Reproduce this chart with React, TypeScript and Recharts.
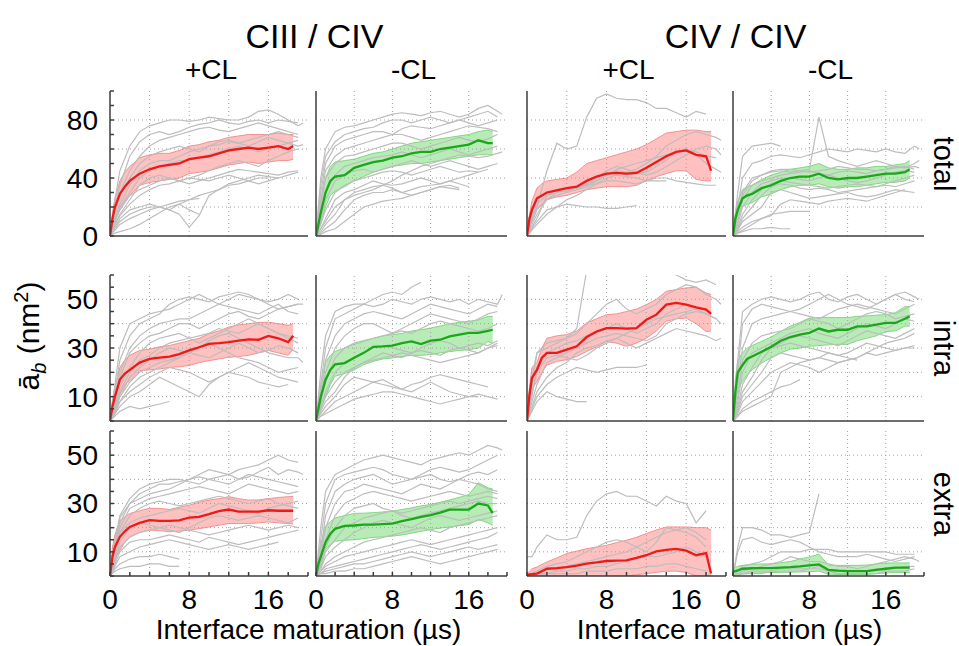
import React from 'react';
import { ComposedChart, Line, Area, XAxis, YAxis, ReferenceLine } from 'recharts';

const FONT = '"Liberation Sans", Arial, Helvetica, sans-serif';

// sample positions (µs) for the individual gray trajectories and for the mean/band
const GRAY_X = [0, 0.5, 1, 2, 3, 4, 5, 6, 7, 8, 9, 10, 11, 12, 13, 14, 15, 16, 17, 18, 19, 19.5];
const MEAN_X = [0, 0.25, 0.5, 1, 1.5, 2, 3, 4, 5, 6, 7, 8, 9, 10, 11, 12, 13, 14, 15, 16, 17, 18, 18.5];

const X_TICKS = [0, 2, 4, 6, 8, 10, 12, 14, 16, 18, 20];
const X_LABELS = [0, 8, 16];
const X_GRID = [4, 8, 12, 16];
const Y_TICKS_TOTAL = [0, 10, 20, 30, 40, 50, 60, 70, 80, 90, 100];
const Y_LABELS_TOTAL = [0, 40, 80];
const Y_GRID_TOTAL = [20, 40, 60, 80];
const Y_TICKS_PART = [0, 5, 10, 15, 20, 25, 30, 35, 40, 45, 50, 55, 60];
const Y_LABELS_PART = [10, 30, 50];
const Y_GRID_PART = [10, 20, 30, 40, 50];

const GROUPS = ['CIII / CIV', 'CIV / CIV'];
const COLUMNS = ['+CL', '-CL', '+CL', '-CL'];
const ROWS = ['total', 'intra', 'extra'];

// panel frame positions in the page
const COL_LEFT = [110, 316, 527, 733];
const COL_RIGHT = [308, 507, 726, 924];
const ROW_TOP = [91, 275, 431];
const ROW_BOTTOM = [236, 421, 576];

// ---- CIII/CIV +CL total
const A_GRAY = [
  [0, 25, 45, 62, 72, 76, 78, 80, 80, 79, 80, 82, 81, 80, 80, 82, 86, 87, 84, 80, 76, 78],
  [0, 20, 35, 55, 65, 70, 72, 70, 72, 75, 77, 78, 80, 78, 77, 79, 80, 78, 80, 79, 78],
  [0, 15, 30, 45, 55, 62, 66, 68, 70, 72, 74, 75, 73, 72, 74, 76, 78, 76, 74, 72, 70],
  [0, 18, 28, 40, 50, 55, 58, 60, 62, 60, 58, 62, 65, 66, 64, 62, 65, 68, 66, 64, 62, 63],
  [0, 12, 22, 35, 45, 50, 52, 52, 55, 58, 60, 62, 63, 65, 64, 66, 68, 70, 72, 70, 68],
  [0, 10, 20, 30, 40, 45, 48, 50, 52, 52, 54, 56, 58, 60, 62, 60, 58, 60, 62, 64, 66],
  [0, 8, 15, 25, 35, 40, 42, 40, 38, 40, 42, 45, 48, 50, 52, 50, 48, 52, 55, 58, 60],
  [0, 10, 18, 28, 32, 35, 38, 40, 38, 36, 38, 40, 42, 44, 46, 45, 44, 43, 42, 44, 45],
  [0, 8, 14, 22, 28, 32, 35, 36, 38, 40, 39, 38, 40, 42, 40, 38, 36, 38, 40],
  [0, 6, 12, 18, 20, 22, 20, 18, 22, 25, 28, 30, 32, 35, 36, 38, 40, 40],
  [0, 5, 10, 15, 18, 20, 20, 18, 15, 6, 14, 28, 32, 36, 38, 40, 42, 41, 40, 42, 44],
  [0, 4, 8, 12, 15, 18, 20, 22, 24, 25, 26],
  [0, 2, 3, 5, 8, 12, 16, 20, 22, 18, 15],
];
const A_MEAN = [0, 12, 20, 29, 34, 38, 43, 46, 48, 49, 50, 53, 54, 55, 57, 59, 60, 61, 60, 61, 62, 60, 62];
const A_HI = [0, 16, 26, 38, 44, 48, 54, 56, 57, 57, 59, 62, 63, 65, 66, 68, 69, 70, 70, 70, 71, 70, 70];
const A_LO = [0, 7, 12, 18, 24, 28, 35, 37, 38, 39, 40, 43, 44, 45, 47, 49, 50, 51, 50, 51, 52, 52, 53];

// ---- CIII/CIV -CL total
const B_GRAY = [
  [0, 40, 60, 72, 75, 76, 78, 80, 82, 84, 85, 84, 83, 85, 86, 84, 82, 84, 88, 90, 86, 84],
  [0, 35, 55, 65, 70, 72, 74, 75, 78, 80, 80, 78, 80, 82, 80, 78, 80, 82, 84, 86, 82],
  [0, 30, 50, 62, 66, 68, 70, 72, 72, 70, 74, 76, 75, 74, 76, 78, 80, 78, 76, 78, 80],
  [0, 25, 45, 55, 60, 62, 64, 66, 68, 70, 70, 68, 66, 68, 70, 72, 74, 76, 75, 74, 72],
  [0, 20, 40, 50, 55, 56, 58, 60, 62, 64, 64, 62, 60, 62, 64, 66, 68, 66, 65, 67, 70],
  [0, 15, 30, 42, 48, 50, 52, 54, 55, 56, 58, 56, 54, 56, 58, 60, 58, 56, 58, 60, 62],
  [0, 10, 25, 38, 42, 45, 46, 44, 46, 48, 50, 52, 50, 48, 50, 52, 50, 48, 46, 48, 50],
  [0, 8, 18, 30, 35, 38, 40, 42, 44, 45, 44, 42, 44, 46, 48, 46, 44, 45, 44, 46],
  [0, 5, 12, 25, 30, 32, 35, 38, 36, 35, 36, 38, 40, 38, 36, 38, 40, 42, 44],
  [0, 3, 8, 15, 25, 30, 32, 34, 35, 33, 30, 32, 34, 35, 36, 38, 36, 34],
  [0, 2, 5, 10, 18, 25, 28, 30, 30, 32, 30, 28, 30, 32, 34, 35, 33],
  [0, 1, 3, 5, 10, 15, 20, 22, 24, 25, 26, 28, 30, 32, 34, 33, 32],
  [0, 5, 10, 20, 25, 28, 30, 32, 35, 38, 42, 45, 48, 50, 52, 54, 56, 55, 54, 55, 57, 58],
];
const B_MEAN = [0, 8, 16, 30, 38, 41, 42, 47, 49, 51, 52, 54, 55, 57, 58, 58, 60, 61, 62, 63, 66, 64, 64];
const B_HI = [0, 12, 24, 40, 48, 51, 52, 53, 55, 57, 58, 60, 62, 64, 65, 66, 67, 68, 69, 70, 72, 73, 72];
const B_LO = [0, 4, 9, 20, 28, 31, 34, 38, 41, 44, 46, 48, 49, 50, 50, 51, 52, 53, 54, 55, 56, 56, 56];

// ---- CIV/CIV +CL total
const C_GRAY = [
  [0, 10, 20, 45, 64, 60, 62, 82, 95, 98, 95, 94, 94, 92, 88, 88, 85, 82, 86, 84],
  [0, 8, 15, 25, 28, 30, 32, 34, 38, 42, 45, 44, 46, 50, 55, 62, 66, 70, 72, 70, 68, 66],
  [0, 10, 18, 25, 30, 32, 34, 36, 38, 42, 44, 42, 43, 44, 48, 52, 58, 60, 56, 50, 46, 44],
  [0, 6, 12, 28, 32, 33, 34, 35, 36, 38, 38, 37, 36, 38, 40, 40, 38, 37, 36, 35, 35],
  [0, 5, 10, 18, 20, 22, 21, 20, 20, 19, 19, 20, 21],
  [0, 4, 8, 15, 20, 25, 28, 32, 36, 40, 42, 41, 40, 38, 38, 38],
  [0, 15, 25, 30, 32, 33, 33, 35, 40, 45, 48, 46, 44, 42, 44, 48, 52, 56, 60, 62, 60, 56],
  [0, 12, 22, 28, 30, 31, 33, 36, 38, 42, 46, 48, 50, 52, 54, 56, 58, 60, 58, 55, 54],
];
const C_MEAN = [0, 12, 18, 26, 28, 30, 31.5, 33, 34, 38, 41, 43, 43.5, 43, 43.5, 47, 51, 55, 58, 59, 56, 55, 45];
const C_HI = [0, 15, 24, 33, 36, 38, 39, 40, 44, 50, 52, 54, 56, 58, 60, 63, 67, 71, 72, 73, 73, 72, 72];
const C_LO = [0, 8, 13, 19, 22, 25, 27, 28, 30, 32, 33, 34, 34, 34, 35, 38, 41, 43, 45, 45, 39, 38, 38];

// ---- CIV/CIV -CL total
const D_GRAY = [
  [0, 30, 55, 62, 63, 64, 62],
  [0, 20, 40, 50, 52, 55, 56, 55, 54, 56, 58, 60, 59, 58, 60, 59, 58, 60, 58, 57, 62, 60],
  [0, 15, 30, 40, 42, 44, 45, 44, 45, 46, 82, 55, 52, 50, 48, 50, 52, 50, 48, 47, 50, 52],
  [0, 15, 28, 38, 42, 45, 46, 46, 45, 44, 45, 46, 48, 47, 46, 46, 45, 46, 48, 47, 48, 47],
  [0, 10, 25, 35, 38, 40, 42, 43, 44, 45, 43, 42, 44, 45, 44, 43, 45, 46, 47, 48, 46],
  [0, 8, 20, 30, 36, 38, 40, 40, 39, 38, 40, 42, 40, 38, 37, 38, 40, 42, 44, 45, 44],
  [0, 6, 15, 25, 32, 36, 38, 37, 36, 35, 34, 33, 34, 35, 36, 35, 34, 36, 38, 40, 42],
  [0, 5, 12, 20, 28, 34, 36, 35, 33, 32, 33, 32, 30, 31, 32, 33, 34, 35, 34, 36, 38],
  [0, 4, 10, 15, 20, 30, 32, 30, 28, 26, 27, 28, 29, 30, 28, 27, 28, 30, 32, 31, 30],
  [0, 3, 6, 10, 12, 14, 22, 25, 24, 23, 22, 24, 25, 26, 25, 24, 26, 28, 30, 32],
  [0, 2, 4, 8, 12, 15, 16, 17, 17, 17],
  [0, 2, 3, 5, 5, 6, 5, 5],
];
const D_MEAN = [0, 12, 18, 26, 28, 29, 33, 35, 38, 40, 41, 41, 43, 40, 39, 40, 40, 41, 42, 43, 43, 44, 46];
const D_HI = [0, 16, 24, 32, 34, 35, 39, 42, 44, 46, 47, 48, 50, 47, 46, 46, 47, 47, 48, 48, 49, 50, 52];
const D_LO = [0, 8, 13, 20, 22, 23, 27, 29, 32, 34, 35, 35, 36, 34, 33, 34, 34, 35, 36, 37, 37, 38, 40];

// ---- CIII/CIV +CL intra
const E_GRAY = [
  [0, 15, 30, 40, 42, 44, 45, 46, 48, 50, 52, 50, 48, 50, 52, 51, 50, 48, 46, 47, 48, 48],
  [0, 12, 25, 35, 40, 42, 44, 48, 50, 51, 50, 49, 51, 52, 53, 52, 50, 49, 50, 52, 50],
  [0, 10, 20, 30, 35, 38, 40, 41, 42, 42, 44, 46, 48, 47, 46, 45, 44, 46, 48, 45, 44],
  [0, 8, 18, 28, 32, 35, 36, 38, 40, 40, 38, 40, 42, 44, 45, 43, 42, 44, 46, 47, 48],
  [0, 6, 14, 22, 28, 32, 34, 35, 36, 34, 32, 34, 36, 38, 40, 42, 40, 38, 36, 35, 34],
  [0, 5, 12, 20, 25, 27, 30, 32, 33, 34, 35, 36, 38, 37, 36, 38, 40, 38, 36, 34, 32],
  [0, 4, 10, 16, 20, 22, 24, 25, 26, 28, 30, 32, 30, 28, 26, 25, 24, 22, 20, 21, 22],
  [0, 4, 8, 12, 15, 18, 20, 22, 21, 20, 18, 16, 18, 20, 22, 24, 22, 20, 18, 17, 16],
  [0, 3, 6, 10, 12, 15, 18, 16, 14, 12, 10, 15, 18, 20, 19, 18, 16, 15, 14, 15],
  [0, 2, 4, 6, 5, 6, 7, 8],
  [0, 3, 8, 14, 18, 20, 22, 24, 26, 28, 30, 33, 35, 36, 34, 32, 30, 28, 27, 26, 26, 24],
  [0, 5, 10, 18, 22, 25, 28, 30, 29, 28, 27, 26, 28, 30, 32, 30, 28, 29, 31, 30, 28],
];
const E_MEAN = [0, 6, 10, 17, 19.5, 21, 24, 25.5, 26, 26.5, 27.5, 29, 30.3, 31.7, 32, 32.4, 33, 33.5, 33.4, 35, 34, 32.4, 35];
const E_HI = [0, 9, 14, 22, 25, 27, 29, 29.5, 30.5, 31, 32, 33, 34, 35.8, 37, 38.6, 39.5, 40, 40.5, 40.6, 40, 39.3, 40];
const E_LO = [0, 3, 6, 11, 15, 16.5, 20.7, 21, 21.4, 22, 22.3, 22.8, 24, 24.8, 25.5, 26.2, 26.5, 27, 28, 29, 28, 27, 29.7];

// ---- CIII/CIV -CL intra
const F_GRAY = [
  [0, 20, 35, 45, 47, 48, 48, 50, 52, 53, 52, 55, 57],
  [0, 15, 30, 42, 44, 46, 48, 47, 48, 50, 49, 48, 50, 51, 50, 49, 50, 48, 50, 49, 48, 52],
  [0, 12, 25, 35, 40, 42, 44, 45, 44, 43, 42, 44, 46, 48, 47, 46, 45, 44, 46, 48, 47],
  [0, 10, 20, 30, 35, 38, 40, 40, 38, 36, 38, 40, 42, 44, 43, 42, 41, 40, 42, 44, 45],
  [0, 8, 16, 26, 30, 32, 33, 34, 35, 36, 37, 36, 38, 40, 41, 40, 39, 38, 37, 38, 40],
  [0, 6, 12, 20, 24, 26, 28, 30, 31, 30, 29, 28, 30, 32, 33, 32, 30, 31, 32, 31, 33],
  [0, 5, 10, 16, 20, 22, 24, 26, 28, 27, 26, 28, 29, 28, 27, 29, 30, 29, 28, 30, 31],
  [0, 4, 8, 12, 18, 22, 24, 25, 26, 27, 28, 27, 26, 25, 24, 25, 26, 27, 28, 30, 32],
  [0, 3, 6, 10, 15, 18, 17, 16, 15, 14, 13, 15, 16, 18, 19, 18, 17, 16, 15, 14],
  [0, 2, 4, 8, 10, 12, 14, 16, 17, 15, 13, 12, 14, 16, 14, 12, 11, 10, 10],
  [0, 2, 3, 5, 7, 9, 10, 11, 12, 12, 11, 10, 9, 8, 7, 8, 9, 10, 11, 10, 9],
];
const F_MEAN = [0, 5, 10, 17, 21, 23.3, 23.8, 26, 28, 30.5, 30.7, 31, 32, 32.7, 31.6, 33, 33.4, 34.8, 35.5, 36.2, 36.2, 37, 37.5];
const F_HI = [0, 8, 15, 24, 27, 28.6, 30, 31.5, 32.7, 34, 35, 35.5, 36, 37, 37.5, 38.2, 39, 40, 40.5, 41, 41.5, 43, 43];
const F_LO = [0, 2, 5, 10, 15, 18.4, 19.5, 21, 23.2, 24.5, 25.5, 25.9, 26.5, 27, 27, 27.3, 28, 28.5, 29, 29.3, 30, 32.7, 32];

// ---- CIV/CIV +CL intra
const G_GRAY = [
  [0, 15, 28, 32, 33, 34, 38, 62, 68, 70, 68, 66, 67, 68, 65, 62, 60, 58, 57, 58, 56],
  [0, 18, 28, 30, 32, 34, 36, 40, 44, 48, 50, 46, 44, 46, 48, 52, 54, 56, 55, 52, 50, 48],
  [0, 10, 22, 28, 30, 32, 33, 35, 36, 38, 40, 38, 36, 38, 40, 44, 46, 48, 46, 44, 42, 40],
  [0, 8, 15, 24, 26, 28, 30, 32, 34, 35, 36, 35, 34, 33, 35, 40, 42, 44, 45, 44],
  [0, 6, 12, 18, 22, 24, 28, 30, 31, 33, 34, 32, 30, 32, 34, 36, 38, 37, 36, 35, 33, 34],
  [0, 5, 10, 15, 18, 20, 22, 21, 20, 21, 22, 22, 22, 23],
  [0, 4, 8, 12, 10, 9, 8, 8],
  [0, 12, 20, 26, 27, 26, 25, 27, 30, 32, 34, 36, 38, 40, 42, 43, 44, 45, 46, 44, 42],
];
const G_MEAN = [0, 10.8, 17.7, 21, 26, 28, 28, 29.3, 30.7, 34.5, 36.8, 38.2, 38.2, 38, 38.2, 41.6, 43.7, 47.8, 48.5, 47.8, 46.7, 45.8, 44];
const G_HI = [0, 14, 22, 24, 30, 34, 35, 35.5, 37, 40.3, 42, 43.7, 44, 45, 46, 47.8, 50, 53.3, 54, 54.7, 55, 52.6, 52];
const G_LO = [0, 7, 13, 16.3, 20, 23, 24.5, 25.2, 26.5, 28.6, 30.5, 32.7, 32, 30.7, 32, 34, 37, 41, 42, 42.3, 40, 36.8, 37];

// ---- CIV/CIV -CL intra
const H_GRAY = [
  [0, 25, 45, 48, 50, 51, 50, 49, 50, 52, 53, 50, 49, 51, 52, 50, 48, 50, 52, 53, 51, 50],
  [0, 20, 40, 46, 48, 47, 46, 45, 46, 48, 50, 52, 50, 48, 47, 46, 48, 50, 52, 50, 49],
  [0, 15, 30, 40, 42, 43, 44, 45, 44, 43, 42, 44, 46, 47, 48, 47, 46, 45, 44, 46, 48],
  [0, 10, 25, 32, 35, 36, 37, 38, 40, 42, 41, 40, 38, 40, 42, 44, 45, 44, 42, 43, 44],
  [0, 8, 20, 28, 30, 32, 34, 36, 37, 38, 36, 35, 34, 36, 38, 40, 39, 38, 40, 42, 41],
  [0, 6, 15, 22, 28, 30, 32, 34, 35, 34, 33, 32, 31, 33, 35, 37, 36, 35, 34, 36, 38],
  [0, 5, 12, 18, 25, 30, 31, 32, 31, 30, 29, 28, 27, 28, 30, 32, 31, 30, 29, 30, 31],
  [0, 4, 10, 15, 20, 26, 28, 27, 26, 25, 26, 25, 24, 25, 26, 28, 27, 28, 29, 30, 30],
  [0, 3, 8, 12, 16, 20, 22, 24, 23, 22, 20, 22, 24, 25, 26, 28, 30, 32, 33, 34, 36],
  [0, 2, 5, 8, 10, 12, 14, 15, 17],
  [0, 2, 4, 6, 8, 10, 20, 22, 24, 25, 26, 28, 27, 26, 25],
];
const H_MEAN = [0, 12, 20, 23, 25.6, 26.5, 28.5, 30.5, 33, 34.5, 35.5, 36.2, 38, 36.8, 37.5, 37.5, 38.9, 38.9, 39.6, 40.3, 40.3, 42, 43];
const H_HI = [0, 17, 25, 28, 30, 31, 32.7, 34.5, 36.8, 39, 40.5, 42.3, 42.5, 42.5, 42.5, 42.5, 43, 43.2, 43.5, 43.7, 44.5, 47, 47];
const H_LO = [0, 7, 13, 16.3, 19, 21, 23.8, 26, 28, 29.5, 30, 30.7, 31, 31.3, 31.5, 31.5, 33, 34, 35, 36.8, 37, 39, 39];

// ---- CIII/CIV +CL extra
const I_GRAY = [
  [0, 15, 25, 32, 36, 38, 39, 40, 40, 39, 38, 40, 41, 42, 40, 41, 43, 45, 42, 44, 43, 42],
  [0, 12, 22, 30, 34, 36, 38, 38, 39, 40, 41, 40, 39, 38, 40, 42, 41, 40, 39, 38, 37],
  [0, 10, 20, 28, 30, 32, 33, 34, 35, 36, 37, 36, 35, 34, 36, 38, 37, 36, 35, 34, 35],
  [0, 8, 18, 25, 28, 30, 31, 30, 29, 30, 31, 32, 33, 32, 31, 30, 31, 32, 30, 29, 28],
  [0, 10, 18, 22, 24, 25, 26, 27, 28, 27, 26, 28, 30, 29, 28, 27, 26, 28, 29, 30, 31],
  [0, 7, 14, 20, 22, 21, 20, 19, 18, 20, 22, 24, 25, 24, 23, 24, 25, 24, 23, 22, 24],
  [0, 6, 12, 16, 18, 19, 20, 21, 20, 19, 18, 17, 18, 19, 20, 21, 20, 19, 20, 21, 20],
  [0, 5, 10, 14, 15, 15, 16, 17, 16, 15, 14, 16, 15, 14, 13, 14, 15, 16, 17, 18, 19],
  [0, 4, 8, 10, 12, 13, 14, 15, 14, 13, 12, 11, 12, 13, 12, 11, 12, 13, 14],
  [0, 3, 5, 7, 8, 8, 9, 8, 7],
  [0, 2, 3, 4, 4, 5, 5, 4, 4],
  [0, 12, 24, 30, 32, 34, 35, 36, 38, 40, 42, 44, 43, 42, 44, 45, 46, 48, 50, 48, 47],
];
const I_MEAN = [0, 8, 12, 16.2, 18.5, 20.3, 22, 23.1, 22.8, 22.8, 23, 24.2, 24.5, 25.6, 26.8, 27.5, 26.6, 26.6, 26.6, 27.2, 27, 27, 27];
const I_HI = [0, 12, 17, 23, 24.5, 25.9, 27, 28, 28, 27.5, 28.5, 29.3, 30.5, 31.4, 32, 32.8, 32, 31.4, 31.5, 32, 32.5, 32.8, 33];
const I_LO = [0, 4, 7, 10.6, 14, 16.2, 18, 19, 18.8, 18.3, 18.6, 19, 19.6, 20.3, 21, 21.7, 21.7, 21.7, 22, 22.4, 22, 21.7, 21.5];

// ---- CIII/CIV -CL extra
const J_GRAY = [
  [0, 20, 35, 42, 44, 46, 48, 49, 50, 49, 48, 47, 46, 48, 49, 50, 51, 50, 52, 54, 53, 52],
  [0, 15, 30, 40, 42, 43, 44, 45, 44, 42, 41, 40, 42, 44, 45, 44, 43, 44, 46, 48, 50],
  [0, 10, 25, 35, 38, 40, 41, 42, 40, 38, 39, 40, 41, 42, 40, 39, 40, 42, 43, 42, 44],
  [0, 8, 20, 30, 35, 36, 38, 37, 36, 35, 34, 36, 38, 37, 36, 38, 40, 39, 38, 36, 35],
  [0, 6, 15, 25, 30, 32, 34, 35, 34, 33, 32, 31, 32, 33, 34, 35, 34, 33, 34, 35, 34],
  [0, 5, 12, 20, 25, 28, 29, 30, 28, 27, 26, 27, 28, 29, 30, 31, 30, 31, 32, 33, 32],
  [0, 4, 10, 15, 20, 22, 24, 25, 26, 27, 25, 24, 25, 26, 27, 28, 29, 30, 31, 30, 30],
  [0, 3, 8, 12, 15, 18, 20, 22, 23, 22, 21, 20, 22, 24, 25, 24, 23, 24, 25, 26, 27],
  [0, 2, 5, 8, 10, 12, 14, 15, 16, 17, 18, 19, 20, 19, 18, 20, 21, 22, 23, 24, 25],
  [0, 2, 4, 6, 8, 9, 10, 11, 12, 13, 14, 15, 14, 13, 14, 15, 16, 17, 18, 19, 20],
  [0, 1, 3, 4, 5, 6, 7, 8, 9, 10, 11, 12, 13, 12, 11, 12, 13, 14, 15, 16, 18],
  [0, 1, 2, 3, 4, 5, 5, 6, 7, 8, 9, 10, 9, 8, 9, 10, 11, 12, 11, 12, 13],
  [0, 1, 1, 2, 2, 3, 3, 4, 5, 6, 7, 8, 7, 6, 5, 6, 7, 8, 9, 10, 11],
];
const J_MEAN = [0, 5, 8, 14, 17.5, 19.5, 20.7, 20.9, 21.3, 21.3, 21.5, 21.7, 22.7, 23.5, 24.5, 25.2, 26.2, 27.5, 27.5, 27.5, 30, 29.2, 26];
const J_HI = [0, 8, 13, 20.6, 22.5, 24, 25, 25.9, 26, 26.2, 26.5, 26.8, 27.5, 28.2, 29, 29.6, 30.5, 31.5, 32.5, 33.7, 38.6, 36.5, 36];
const J_LO = [0, 2, 4, 11, 13, 14.4, 14.8, 15, 15.5, 16, 16.2, 16.5, 17, 17.7, 18.5, 19.2, 19.8, 20.3, 20.8, 21.3, 23.4, 22, 21];

// ---- CIV/CIV +CL extra
const K_GRAY = [
  [8, 8, 12, 17, 15, 15, 16, 25, 31, 34, 35, 33, 33, 31, 29, 33, 31, 30, 22, 27],
  [0, 0, 2, 4, 5, 6, 8, 10, 12, 14, 15, 14, 12, 10, 14, 20, 19, 18, 16, 12],
  [0, 1, 2, 3, 3, 4, 5, 6, 7, 8, 9, 10, 12, 14, 16, 18, 19, 20, 18, 15],
  [0, 0, 1, 1, 2, 2, 3, 3, 4, 4, 5, 6, 7, 8, 8, 9, 10, 12, 10, 8],
  [0, 0, 0, 1, 1, 1, 1, 2, 2, 2, 3, 3, 3, 4, 4, 5, 5, 4, 3, 2],
];
const K_MEAN = [0, 0.7, 0.8, 1, 2, 3, 3.3, 3.7, 4.3, 5.1, 5.6, 6.2, 6.4, 6.5, 7.5, 8.6, 10.2, 10.8, 11.2, 10.5, 8.6, 9.5, 1];
const K_HI = [0, 2, 3, 3.7, 4.8, 5.8, 7.5, 9.3, 10.3, 11.3, 12, 12.7, 13.8, 14.8, 16, 17.6, 19, 20.3, 20.3, 20.3, 20, 20, 19];
const K_LO = [0, 0, 0, 0, 0, 0, 0, 0, 0, 0, 0, 0, 0, 0, 0.5, 1, 1.5, 2, 2, 1.5, 0, 0, 0];

// ---- CIV/CIV -CL extra
const L_GRAY = [
  [0, 12, 20, 20, 19, 17, 17, 16, 17, 18, 34],
  [0, 10, 15, 16, 14, 13, 14, 15, 14, 12, 10, 9, 8, 8, 8, 9, 8, 7, 6, 7, 8],
  [0, 2, 4, 5, 6, 8, 10, 10, 10, 11, 11, 11, 10, 10, 10, 10, 10, 10, 9, 9, 9],
  [0, 1, 2, 3, 4, 5, 6, 8, 7, 6, 6, 5, 4, 4, 3, 4, 5, 6, 7, 8, 7, 6],
  [0, 1, 1, 2, 2, 2, 3, 3, 3, 3, 3, 2, 2, 2, 2, 2, 3, 3, 3, 4, 4],
  [0, 0, 1, 1, 1, 2, 2, 2, 2, 3, 4, 2, 1, 1, 1, 1, 1, 2, 2, 2, 3],
];
const L_MEAN = [1.7, 2, 2.3, 3, 3.1, 3.2, 3.3, 3.3, 3.5, 3.7, 4, 4.4, 4.8, 2.5, 2.2, 2, 2, 2, 2.5, 3, 3.5, 3.5, 3.5];
const L_HI = [2.5, 3.5, 4, 4.4, 4.6, 4.8, 5, 5, 5.5, 6, 7, 7.9, 9, 4.5, 4.4, 4.4, 4.4, 4.5, 5, 5.4, 5.4, 5.4, 5.4];
const L_LO = [0.5, 0.6, 0.7, 0.8, 1, 1.2, 1.3, 1.4, 1.5, 1.6, 1.7, 1.8, 2, 0.8, 0.6, 0.6, 0.6, 0.6, 1, 1.2, 1.5, 1.5, 1.5];

const RED = { line: '#ee1a1a', fill: '#ff3030', opacity: 0.3, edge: '#f59090' };
const GREEN = { line: '#1aa81a', fill: '#30c830', opacity: 0.35, edge: '#80d880' };

type PanelSpec = {
  row: number;
  col: number;
  gray: number[][];
  mean: number[];
  lo: number[];
  hi: number[];
  tone: typeof RED;
};

const PANELS: PanelSpec[] = [
  { row: 0, col: 0, gray: A_GRAY, mean: A_MEAN, lo: A_LO, hi: A_HI, tone: RED },
  { row: 0, col: 1, gray: B_GRAY, mean: B_MEAN, lo: B_LO, hi: B_HI, tone: GREEN },
  { row: 0, col: 2, gray: C_GRAY, mean: C_MEAN, lo: C_LO, hi: C_HI, tone: RED },
  { row: 0, col: 3, gray: D_GRAY, mean: D_MEAN, lo: D_LO, hi: D_HI, tone: GREEN },
  { row: 1, col: 0, gray: E_GRAY, mean: E_MEAN, lo: E_LO, hi: E_HI, tone: RED },
  { row: 1, col: 1, gray: F_GRAY, mean: F_MEAN, lo: F_LO, hi: F_HI, tone: GREEN },
  { row: 1, col: 2, gray: G_GRAY, mean: G_MEAN, lo: G_LO, hi: G_HI, tone: RED },
  { row: 1, col: 3, gray: H_GRAY, mean: H_MEAN, lo: H_LO, hi: H_HI, tone: GREEN },
  { row: 2, col: 0, gray: I_GRAY, mean: I_MEAN, lo: I_LO, hi: I_HI, tone: RED },
  { row: 2, col: 1, gray: J_GRAY, mean: J_MEAN, lo: J_LO, hi: J_HI, tone: GREEN },
  { row: 2, col: 2, gray: K_GRAY, mean: K_MEAN, lo: K_LO, hi: K_HI, tone: RED },
  { row: 2, col: 3, gray: L_GRAY, mean: L_MEAN, lo: L_LO, hi: L_HI, tone: GREEN },
];

const FRAME = { stroke: '#3c3c3c', strokeWidth: 1.5 };
const GRID = '#a0a0a0';

function Panel({ p }: { p: PanelSpec }) {
  const left = COL_LEFT[p.col];
  const right = COL_RIGHT[p.col];
  const top = ROW_TOP[p.row];
  const bottom = ROW_BOTTOM[p.row];
  // room around the frame for the tick labels
  const yw = p.col === 0 ? 74 : 20;
  const xh = p.row === 2 ? 50 : 16;
  const isTotal = p.row === 0;
  const yTicks = isTotal ? Y_TICKS_TOTAL : Y_TICKS_PART;
  const yLabels = isTotal ? Y_LABELS_TOTAL : Y_LABELS_PART;
  const yGrid = isTotal ? Y_GRID_TOTAL : Y_GRID_PART;
  const yMax = isTotal ? 100 : 60;
  const tickStyle = { fontSize: 28, fill: '#000', fontFamily: FONT };

  const meanData = MEAN_X.map((x, i) => ({ x, m: p.mean[i], band: [p.lo[i], p.hi[i]] }));
  const grayData = p.gray.map((vals) => vals.map((y, i) => ({ x: GRAY_X[i], y })));

  return (
    <div style={{ position: 'absolute', left: left - yw, top: top - 2 }}>
      <ComposedChart
        width={yw + (right - left) + 2}
        height={bottom - top + 2 + xh}
        data={meanData}
        margin={{ top: 2, right: 2, bottom: 0, left: 0 }}
      >
        {X_GRID.map((v) => (
          <ReferenceLine key={'gx' + v} x={v} stroke={GRID} strokeDasharray="1 3" />
        ))}
        {yGrid.map((v) => (
          <ReferenceLine key={'gy' + v} y={v} stroke={GRID} strokeDasharray="1 3" />
        ))}
        {grayData.map((d, i) => (
          <Line
            key={'g' + i}
            data={d}
            dataKey="y"
            type="linear"
            stroke="#bdbdbd"
            strokeWidth={1.2}
            dot={false}
            isAnimationActive={false}
          />
        ))}
        <Area
          dataKey="band"
          type="linear"
          stroke={p.tone.edge}
          strokeWidth={1}
          fill={p.tone.fill}
          fillOpacity={p.tone.opacity}
          isAnimationActive={false}
        />
        <Line
          dataKey="m"
          type="linear"
          stroke={p.tone.line}
          strokeWidth={2.3}
          dot={false}
          isAnimationActive={false}
        />
        <XAxis
          dataKey="x"
          type="number"
          domain={[0, 20]}
          ticks={X_TICKS}
          interval={0}
          allowDataOverflow
          height={xh}
          tickSize={-4}
          tickMargin={17}
          axisLine={FRAME}
          tickLine={FRAME}
          tick={p.row === 2 ? tickStyle : false}
          tickFormatter={(v: number) => (X_LABELS.includes(v) ? String(v) : '')}
        />
        <XAxis
          xAxisId="top"
          orientation="top"
          type="number"
          domain={[0, 20]}
          ticks={X_TICKS}
          interval={0}
          allowDataOverflow
          height={0}
          tickSize={-4}
          axisLine={FRAME}
          tickLine={FRAME}
          tick={false}
        />
        <YAxis
          type="number"
          domain={[0, yMax]}
          ticks={yTicks}
          interval={0}
          allowDataOverflow
          width={yw}
          tickSize={-4}
          tickMargin={16}
          axisLine={FRAME}
          tickLine={FRAME}
          tick={p.col === 0 ? tickStyle : false}
          tickFormatter={(v: number) => (yLabels.includes(v) ? String(v) : '')}
        />
        <YAxis
          yAxisId="right"
          orientation="right"
          type="number"
          domain={[0, yMax]}
          ticks={yTicks}
          interval={0}
          allowDataOverflow
          width={0}
          tickSize={-4}
          axisLine={FRAME}
          tickLine={FRAME}
          tick={false}
        />
      </ComposedChart>
    </div>
  );
}

const textBase: React.CSSProperties = {
  position: 'absolute',
  fontFamily: FONT,
  color: '#000',
  whiteSpace: 'nowrap',
  transform: 'translate(-50%, -50%)',
  lineHeight: 1,
};

export default function App() {
  const groupCenters = [(COL_LEFT[0] + COL_RIGHT[1]) / 2, (COL_LEFT[2] + COL_RIGHT[3]) / 2 + 4];
  return (
    <div
      style={{
        position: 'absolute',
        left: 0,
        top: 0,
        width: 959,
        height: 646,
        background: '#fff',
        overflow: 'hidden',
      }}
    >
      {GROUPS.map((g, i) => (
        <div key={g} style={{ ...textBase, left: groupCenters[i] + 6, top: 36, fontSize: 34 }}>
          {g}
        </div>
      ))}
      {COLUMNS.map((c, i) => (
        <div key={i} style={{ ...textBase, left: (COL_LEFT[i] + COL_RIGHT[i]) / 2 + 2, top: 70, fontSize: 28 }}>
          {c}
        </div>
      ))}
      {ROWS.map((r, i) => (
        <div
          key={r}
          style={{
            ...textBase,
            left: 943,
            top: (ROW_TOP[i] + ROW_BOTTOM[i]) / 2,
            fontSize: 29,
            transform: 'translate(-50%, -50%) rotate(90deg)',
          }}
        >
          {r}
        </div>
      ))}
      <div
        style={{
          ...textBase,
          left: 30,
          top: 336,
          fontSize: 30,
          transform: 'translate(-50%, -50%) rotate(-90deg)',
        }}
      >
        ā<sub style={{ fontStyle: 'italic', fontSize: 20 }}>b</sub> (nm<sup style={{ fontSize: 20 }}>2</sup>)
      </div>
      {GROUPS.map((g, i) => (
        <div key={'xt' + i} style={{ ...textBase, left: groupCenters[i], top: 630, fontSize: 28 }}>
          Interface maturation (µs)
        </div>
      ))}
      {PANELS.map((p, i) => (
        <Panel key={i} p={p} />
      ))}
    </div>
  );
}
